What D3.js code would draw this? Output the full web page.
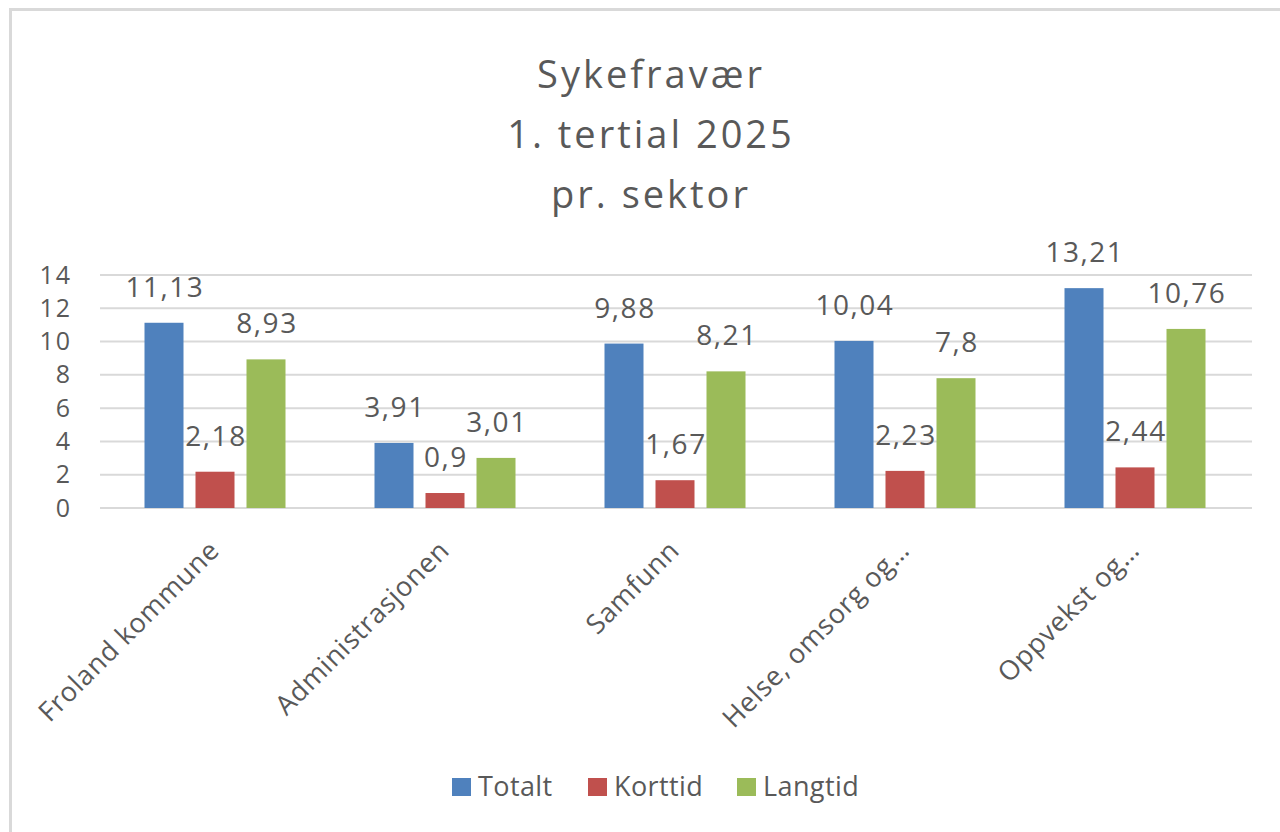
<!DOCTYPE html>
<meta charset="utf-8">
<style>
body { margin: 0; background: #fff; }
text { font-family: "Open Sans", sans-serif; fill: #595959; }
</style>
<body>
<script src="https://cdn.jsdelivr.net/npm/d3@7"></script>
<script>

var categories = ["Froland kommune", "Administrasjonen", "Samfunn", "Helse, omsorg og\u2026", "Oppvekst og\u2026"];
var seriesNames = ["Totalt", "Korttid", "Langtid"];
var totalt  = [11.13, 3.91, 9.88, 10.04, 13.21];
var korttid = [2.18, 0.9, 1.67, 2.23, 2.44];
var langtid = [8.93, 3.01, 8.21, 7.8, 10.76];
var yTicks = [0, 2, 4, 6, 8, 10, 12, 14];
var titleLines = ["Sykefravær", "1. tertial 2025", "pr. sektor"];

var colors = {"Totalt": "#4f81bd", "Korttid": "#c0504d", "Langtid": "#9bbb59"};
var values = {"Totalt": totalt, "Korttid": korttid, "Langtid": langtid};

var W = 1280, H = 832;
var svg = d3.select("body").append("svg")
    .attr("width", W)
    .attr("height", H);

// chart frame (left + top edge visible)
svg.append("path")
    .attr("d", "M10.5," + H + "V9.5H" + W)
    .attr("fill", "none")
    .attr("stroke", "#d9d9d9")
    .attr("stroke-width", 3);

// title
svg.append("g").selectAll("text")
    .data(titleLines)
  .enter().append("text")
    .attr("x", 651)
    .attr("y", function(d, i) { return 88 + i * 60; })
    .attr("text-anchor", "middle")
    .style("font-size", "38px")
    .style("letter-spacing", "3px")
    .text(function(d) { return d; });

var x0 = d3.scaleBand()
    .domain(categories)
    .range([100, 1250]);

var x1 = d3.scaleBand()
    .domain(seriesNames)
    .range([44.5, 185.5])
    .paddingInner(12 / 51);

var y = d3.scaleLinear()
    .domain([0, 14])
    .range([508, 275]);

// gridlines
svg.append("g").selectAll("line")
    .data(yTicks)
  .enter().append("line")
    .attr("x1", 100)
    .attr("x2", 1252)
    .attr("y1", function(d) { return y(d); })
    .attr("y2", function(d) { return y(d); })
    .attr("stroke", "#d9d9d9")
    .attr("stroke-width", 2);

// y axis labels
var yAxis = svg.append("g")
    .attr("transform", "translate(72,0)")
    .call(d3.axisLeft(y).tickValues(yTicks).tickSize(0).tickPadding(0));
yAxis.select(".domain").remove();
yAxis.selectAll("text")
    .attr("fill", "#595959")
    .style("font-family", "'Open Sans', sans-serif")
    .style("font-size", "25px")
    .style("letter-spacing", "2px");

var rows = [];
categories.forEach(function(c, i) {
  seriesNames.forEach(function(s) {
    rows.push({cat: c, series: s, value: values[s][i]});
  });
});

svg.append("g").selectAll("rect")
    .data(rows)
  .enter().append("rect")
    .attr("x", function(d) { return x0(d.cat) + x1(d.series); })
    .attr("y", function(d) { return y(d.value); })
    .attr("width", x1.bandwidth())
    .attr("height", function(d) { return y(0) - y(d.value); })
    .attr("fill", function(d) { return colors[d.series]; });

svg.append("g").selectAll("text")
    .data(rows)
  .enter().append("text")
    .attr("x", function(d) { return x0(d.cat) + x1(d.series) + x1.bandwidth() / 2 + 1; })
    .attr("y", function(d) { return y(d.value) - 26; })
    .attr("text-anchor", "middle")
    .style("font-size", "28px")
    .style("letter-spacing", "1.5px")
    .text(function(d) { return String(d.value).replace(".", ","); });

// category labels, rotated
svg.append("g").selectAll("text")
    .data(categories)
  .enter().append("text")
    .attr("transform", function(d) {
      return "translate(" + (x0(d) + x0.bandwidth() / 2 + 6) + ",552) rotate(-45)";
    })
    .attr("text-anchor", "end")
    .style("font-size", "27px")
    .style("letter-spacing", "0.7px")
    .text(function(d) { return d; });

// legend
var legendX = [452, 588, 737];
var legend = svg.append("g").selectAll("g")
    .data(seriesNames)
  .enter().append("g")
    .attr("transform", function(d, i) { return "translate(" + legendX[i] + ",778)"; });
legend.append("rect")
    .attr("width", 19)
    .attr("height", 18)
    .attr("fill", function(d) { return colors[d]; });
legend.append("text")
    .attr("x", 26)
    .attr("y", 18)
    .style("font-size", "27px")
    .style("letter-spacing", "0.4px")
    .text(function(d) { return d; });

</script>
</body>
